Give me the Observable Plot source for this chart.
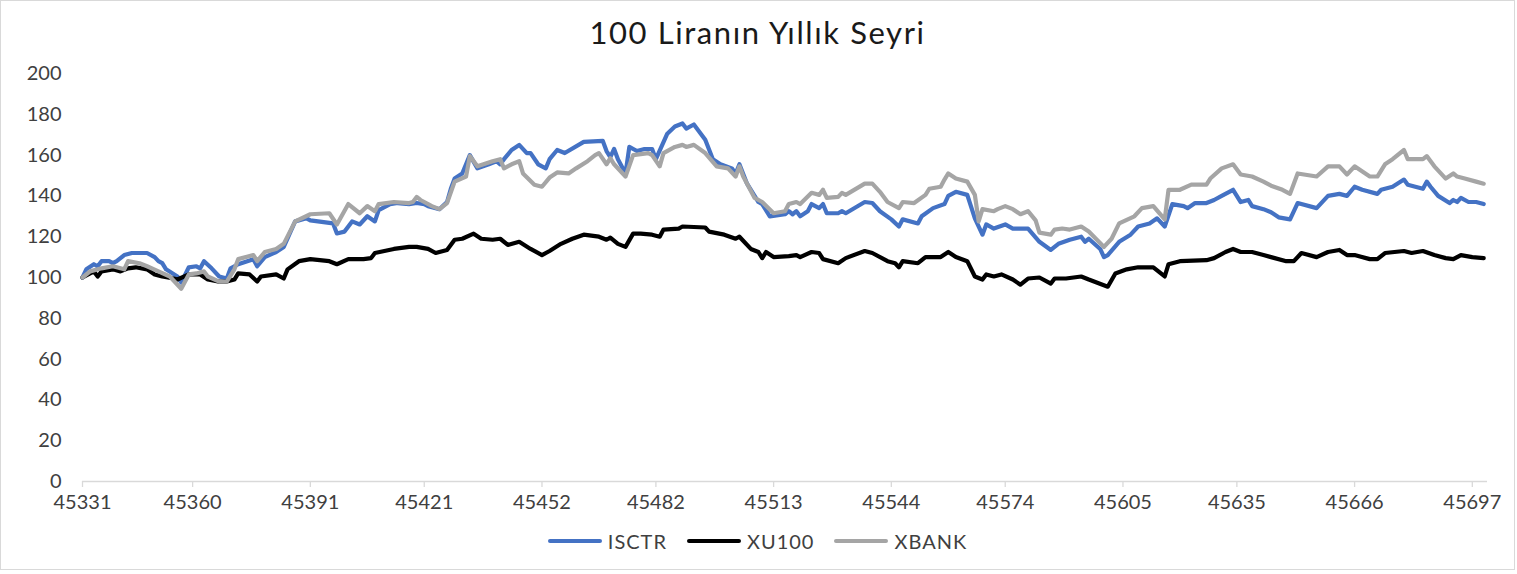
<!DOCTYPE html>
<html>
<head>
<meta charset="utf-8">
<script src="https://cdn.jsdelivr.net/npm/d3@7"></script>
<script src="https://cdn.jsdelivr.net/npm/@observablehq/plot@0.6"></script>
<style>
  html, body { margin: 0; padding: 0; background: #fff; }
  #frame { position: relative; width: 1513px; height: 568px; border: 1px solid #d9d9d9; background: #fff; font-family: Lato, "Open Sans", sans-serif; color: #404040; overflow: hidden; }
  #title { position: absolute; left: 0; width: 100%; top: 11px; text-align: center; font-size: 31px; line-height: 40px; color: #1a1a1a; letter-spacing: 1.6px; }
  #chart { position: absolute; left: 0; top: 55px; }
  #legend { position: absolute; left: 0; width: 100%; top: 528px; display: flex; justify-content: center; align-items: center; font-size: 20px; letter-spacing: 1px; color: #404040; }
  .item { display: flex; align-items: center; margin: 0 10px; }
  .sw { width: 54px; height: 4px; border-radius: 2px; margin-right: 6px; }
</style>
</head>
<body>
<div id="frame">
  <div id="title">100 Liranın Yıllık Seyri</div>
  <div id="chart"></div>
  <div id="legend"></div>
</div>
<script>
const seriesNames = ["ISCTR", "XU100", "XBANK"];
const seriesColors = ["#4472C4", "#000000", "#A5A5A5"];
const xTicks = [45331,45360,45391,45421,45452,45482,45513,45544,45574,45605,45635,45666,45697];
const yTicks = [0,20,40,60,80,100,120,140,160,180,200];

const iscDates = [45331,45332,45334,45335,45336,45338,45339,45340,45342,45344,45348,45350,45351,45352,45353,45356,45357,45359,45361,45362,45363,45365,45367,45369,45370,45372,45376,45377,45379,45382,45384,45387,45390,45391,45397,45398,45400,45402,45404,45406,45408,45409,45412,45414,45417,45419,45421,45422,45425,45427,45428,45429,45431,45433,45435,45438,45440,45441,45442,45444,45446,45448,45449,45451,45453,45454,45456,45458,45463,45468,45469,45470,45471,45472,45474,45475,45477,45479,45481,45482,45485,45487,45489,45490,45492,45495,45497,45499,45502,45503,45504,45506,45509,45510,45512,45516,45517,45518,45519,45520,45522,45523,45525,45526,45527,45530,45531,45532,45537,45539,45541,45544,45546,45547,45551,45552,45555,45558,45559,45561,45564,45566,45568,45569,45571,45574,45576,45580,45583,45586,45588,45591,45594,45595,45596,45599,45600,45601,45604,45607,45609,45612,45614,45616,45618,45621,45622,45624,45627,45629,45631,45633,45634,45636,45638,45639,45642,45644,45646,45649,45651,45656,45659,45662,45664,45666,45668,45672,45673,45676,45679,45680,45684,45685,45686,45688,45691,45692,45693,45694,45696,45698,45700];
const iscVals = [100,104,106.5,105.5,108,108,107,108,111,112,112,110,108,107,104,100.5,97.5,105,105.5,104.5,108,104.5,100.5,99.5,104.5,106.5,109,105.5,110,112.5,115,127.5,129,128,126.5,121.6,122.5,127.5,126,130,127.5,133,136,136.5,136,136.5,136,135,133.5,137,143.5,148.5,151,160,153.5,155.5,157,155.5,158,162.5,165,161,161,155.5,153.5,158,162.5,161,166.5,167,162,159,163,158,151,164,162,163,163,158,170.5,174,175.5,173,175,167.5,158,155.5,153.5,151,155.5,146,137,136,130,131,132.5,131,132.5,130,132.5,136,134,136,131.5,131.5,132.5,131.5,137,136.5,132.5,128.5,125,128.5,126.5,130,134,136,140,142,140.5,129,121,126,124,126,124,124,117.5,113.5,116.5,118.5,120,117.5,119,114,110,111,117.5,121,125,126.5,129,125,136,135,134,136.5,136.5,138,140,142,143,137,138,135,133.5,132,129.5,128.5,136.5,134,140,141,140,144.5,143,141,143,144.5,148,145.5,143.5,147,144.5,140,136.5,138,137,139,137,137,136];

const xuDates = [45331,45334,45335,45336,45339,45341,45343,45345,45348,45350,45352,45355,45356,45359,45362,45364,45367,45369,45371,45372,45375,45377,45378,45382,45384,45385,45388,45391,45396,45398,45401,45405,45407,45408,45413,45417,45419,45422,45424,45427,45429,45431,45434,45436,45439,45441,45443,45446,45449,45452,45454,45457,45460,45463,45467,45469,45470,45472,45474,45476,45478,45481,45483,45484,45488,45489,45495,45496,45500,45503,45504,45507,45509,45510,45511,45513,45517,45519,45520,45523,45525,45526,45530,45532,45537,45539,45543,45545,45546,45547,45551,45553,45557,45559,45561,45564,45566,45568,45569,45571,45573,45576,45578,45580,45583,45586,45587,45590,45594,45596,45601,45603,45606,45609,45613,45616,45617,45620,45627,45629,45632,45634,45636,45639,45642,45644,45648,45650,45652,45656,45659,45662,45664,45666,45670,45672,45674,45679,45681,45684,45687,45690,45692,45694,45697,45700];
const xuVals = [100,103,100.5,103,104,103,104.5,105,104,101.5,100.5,99.5,99,101.5,101.5,99,98,98,99,102,101.5,98,100.5,101.5,99.5,104,108,109,108,106.5,109,109,109.5,112,114,115,115,114,112,113.5,118.5,119,121.5,119,118.5,119,116,117.5,114,111,113,116.5,119,121,120,118.5,119.5,116.5,115,121.5,121.5,121,120,123.5,124,125,124.5,122.5,121,119,120,114,112.5,109.5,112.5,110,110.5,111,110,112.5,112,109,107,109.5,113,112,108,107,105,108,107,110,110,112.5,110,108,100.5,99,101.5,100.5,101.5,99,96.5,99.5,100,97,99.5,99.5,100.5,99,95.5,102,104,105,105,100.5,106.5,108,108.5,109.5,112.5,114,112.5,112.5,111,110,108,108,112,110,112.5,113.5,111,111,109,109,112,113,112,113,111,109.5,109,111,110,109.5];

const xbDates = [45331,45333,45336,45339,45342,45343,45346,45348,45351,45354,45357,45359,45361,45363,45364,45367,45369,45371,45372,45376,45377,45379,45382,45384,45387,45391,45396,45398,45401,45404,45406,45408,45409,45413,45417,45418,45419,45420,45421,45423,45425,45427,45429,45432,45433,45435,45439,45441,45442,45444,45446,45447,45450,45452,45454,45456,45459,45461,45464,45466,45467,45469,45470,45471,45474,45476,45480,45481,45483,45484,45487,45489,45490,45492,45495,45498,45501,45503,45504,45505,45508,45510,45513,45516,45517,45518,45519,45520,45523,45525,45526,45527,45530,45531,45532,45537,45539,45541,45543,45546,45547,45550,45553,45554,45557,45558,45559,45561,45564,45566,45567,45568,45571,45572,45574,45576,45578,45580,45582,45583,45586,45587,45589,45591,45594,45596,45600,45602,45604,45608,45610,45613,45616,45617,45620,45623,45627,45628,45631,45634,45636,45639,45642,45644,45647,45649,45651,45656,45659,45662,45664,45666,45670,45672,45674,45676,45679,45680,45684,45685,45687,45690,45692,45693,45695,45698,45700];
const xbVals = [100,103,104.5,105.5,104,108,107,105.5,103,100.5,94.5,101.5,102,103,100.5,98,98,104,109,111,108,112.5,114,116.5,127.5,131,131.5,126,136,131.5,135,132.5,136,137,136.5,137,139.5,138,137,135,133.5,136.5,147,149.5,159.5,154.5,157,158,153.5,155.5,157,151,145.5,144.5,149,151.5,151,153.5,157,160,161,155.5,158.5,155.5,149.5,160,161,160,154.5,161,164,165,164,165,161,154.5,153.5,149.5,154.5,149.5,139,137,131.5,132.5,136,136.5,137,136,141.5,140.5,143,139,139.5,141.5,140.5,146,146,142,137,134,137,136.5,140.5,143.5,144.5,148,151,148.5,147,140.5,127.5,133.5,132.5,133.5,135,133.5,131,132.5,128,122,121,123.5,124,123.5,125,122.5,115,119,126.5,130,134,135,128.5,143,143,145.5,145.5,148.5,153.5,155.5,150.5,149.5,147,145,143,141,151,149.5,154.5,154.5,150.5,154.5,149.5,149.5,155.5,158,162.5,158,158,159.5,154.5,148.5,151,149.5,148.5,147,146];

const rows = [];
[[iscDates, iscVals], [xuDates, xuVals], [xbDates, xbVals]].forEach(([ds, vs], i) => {
  ds.forEach((d, j) => rows.push({series: seriesNames[i], date: d, value: vs[j]}));
});

const chart = Plot.plot({
  width: 1513,
  height: 465,
  marginLeft: 81,
  marginRight: 27,
  marginTop: 17,
  marginBottom: 40,
  style: {fontFamily: "Lato, 'Open Sans', sans-serif", fontSize: "20px", color: "#404040", background: "transparent"},
  x: {domain: [45331, 45701], label: null},
  y: {domain: [0, 200], label: null},
  color: {domain: seriesNames, range: seriesColors},
  marks: [
    Plot.ruleY([0], {stroke: "#d9d9d9", strokeWidth: 1.3}),
    Plot.axisX({ticks: xTicks, tickFormat: d => String(d), tickSize: 6, tickPadding: 7, stroke: "#d9d9d9", strokeWidth: 1.3, fill: "#404040", label: null}),
    Plot.axisY({ticks: yTicks, tickSize: 0, tickPadding: 21, fill: "#404040", label: null}),
    Plot.line(rows, {x: "date", y: "value", z: "series", stroke: "series", strokeWidth: 4.2, strokeLinejoin: "round", strokeLinecap: "round", curve: "linear"})
  ]
});
document.getElementById("chart").appendChild(chart);

const legend = document.getElementById("legend");
seriesNames.forEach((n, i) => {
  const it = document.createElement("div");
  it.className = "item";
  const sw = document.createElement("div");
  sw.className = "sw";
  sw.style.background = seriesColors[i];
  const t = document.createElement("span");
  t.textContent = n;
  it.appendChild(sw); it.appendChild(t);
  legend.appendChild(it);
});
</script>
</body>
</html>
